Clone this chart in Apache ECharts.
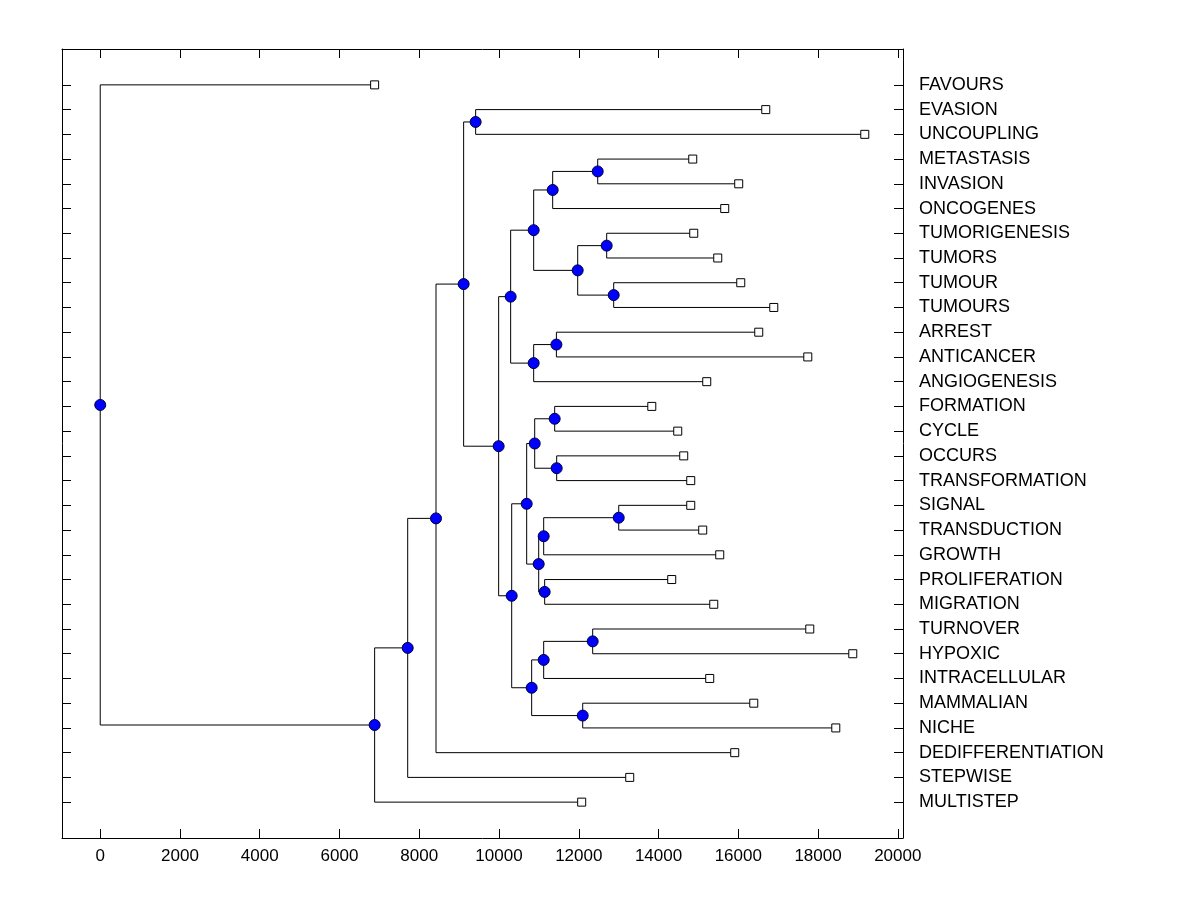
<!DOCTYPE html>
<html><head><meta charset="utf-8">
<script src="https://cdn.jsdelivr.net/npm/echarts@6/dist/echarts.min.js"></script>
<style>html,body{margin:0;padding:0;background:#fff}#c{width:1200px;height:900px}</style>
</head><body><div id="c"></div>
<script>
const leafNames = ['FAVOURS','EVASION','UNCOUPLING','METASTASIS','INVASION','ONCOGENES','TUMORIGENESIS','TUMORS','TUMOUR','TUMOURS','ARREST','ANTICANCER','ANGIOGENESIS','FORMATION','CYCLE','OCCURS','TRANSFORMATION','SIGNAL','TRANSDUCTION','GROWTH','PROLIFERATION','MIGRATION','TURNOVER','HYPOXIC','INTRACELLULAR','MAMMALIAN','NICHE','DEDIFFERENTIATION','STEPWISE','MULTISTEP'];
const leafHeights = [6881,16689,19172,14858,16011,15660,14883,15485,16062,16890,16513,17743,15209,13831,14482,14632,14808,14808,15108,15535,14331,15385,17793,18871,15284,16388,18445,15911,13278,12073];
// merges: [childA, childB, height]; index < 30 = leaf, >= 30 = merges[index-30]
const merges = [
 [1,2,9414],[3,4,12475],[31,5,11346],[6,7,12700],[8,9,12876],[33,34,11973],[32,35,10869],
 [10,11,11439],[37,12,10869],[36,38,10292],[13,14,11396],[15,16,11446],[40,41,10895],
 [17,18,13002],[43,19,11120],[20,21,11145],[44,45,10995],[42,46,10694],[22,23,12349],
 [48,24,11120],[25,26,12099],[49,50,10819],[47,51,10318],[39,52,9991],[30,53,9113],
 [54,27,8420],[55,28,7710],[56,29,6881],[0,57,0]
];
const xTicks = [0,2000,4000,6000,8000,10000,12000,14000,16000,18000,20000];
const rowTicks = leafNames.map((_, i) => i);

const nLeaf = leafNames.length;
const posCache = {};
function pos(i) {
  if (posCache[i]) return posCache[i];
  let p;
  if (i < nLeaf) p = [leafHeights[i], i];
  else {
    const m = merges[i - nLeaf];
    p = [m[2], (pos(m[0])[1] + pos(m[1])[1]) / 2];
  }
  posCache[i] = p;
  return p;
}
const linkData = merges.map(m => {
  const a = pos(m[0]), b = pos(m[1]), x = m[2];
  return { coords: [[a[0], a[1]], [x, a[1]], [x, b[1]], [b[0], b[1]]] };
});
const nodeData = merges.map((m, k) => pos(nLeaf + k));
const leafData = leafNames.map((_, i) => pos(i));

const maxLeaf = Math.max(...leafHeights);
const xMin = -0.05 * maxLeaf, xMax = maxLeaf * 1.05;
const yPad = 0.05 * (nLeaf - 1);
const font = 'Liberation Sans, Arial, Helvetica, sans-serif';
const tickStyle = { color: '#000', width: 1 };
const axisLine = { show: true, onZero: false, lineStyle: tickStyle };

const chart = echarts.init(document.getElementById('c'));
chart.setOption({
  backgroundColor: '#fff',
  animation: false,
  grid: { left: 62, right: 297, top: 49, bottom: 62, containLabel: false },
  xAxis: [
    { type: 'value', position: 'bottom', min: xMin, max: xMax, axisLine,
      axisTick: { show: true, inside: true, length: 9, customValues: xTicks, lineStyle: tickStyle },
      axisLabel: { customValues: xTicks, formatter: v => String(v), color: '#000', fontSize: 17, fontFamily: font, margin: 10 },
      splitLine: { show: false } },
    { type: 'value', position: 'top', min: xMin, max: xMax, axisLine,
      axisTick: { show: true, inside: true, length: 9, customValues: xTicks, lineStyle: tickStyle },
      axisLabel: { show: false },
      splitLine: { show: false } }
  ],
  yAxis: [
    { type: 'value', position: 'left', inverse: true, min: -yPad, max: nLeaf - 1 + yPad, axisLine,
      axisTick: { show: true, inside: true, length: 9, customValues: rowTicks, lineStyle: tickStyle },
      axisLabel: { show: false },
      splitLine: { show: false } },
    { type: 'value', position: 'right', inverse: true, min: -yPad, max: nLeaf - 1 + yPad, axisLine,
      axisTick: { show: true, inside: true, length: 9, customValues: rowTicks, lineStyle: tickStyle },
      axisLabel: { customValues: rowTicks, formatter: v => leafNames[Math.round(v)] || '',
        color: '#000', fontSize: 18, fontFamily: font, margin: 16 },
      splitLine: { show: false } }
  ],
  series: [
    { type: 'lines', coordinateSystem: 'cartesian2d', polyline: true, silent: true,
      lineStyle: { color: '#000', width: 1, opacity: 1 }, data: linkData, z: 1 },
    { type: 'scatter', data: leafData, symbol: 'rect', symbolSize: 8,
      itemStyle: { color: '#fff', borderColor: '#000', borderWidth: 1, opacity: 1 }, z: 3 },
    { type: 'scatter', data: nodeData, symbol: 'circle', symbolSize: 11,
      itemStyle: { color: '#0000ff', borderColor: '#000040', borderWidth: 1, opacity: 1 }, z: 4 }
  ]
});
</script></body></html>
